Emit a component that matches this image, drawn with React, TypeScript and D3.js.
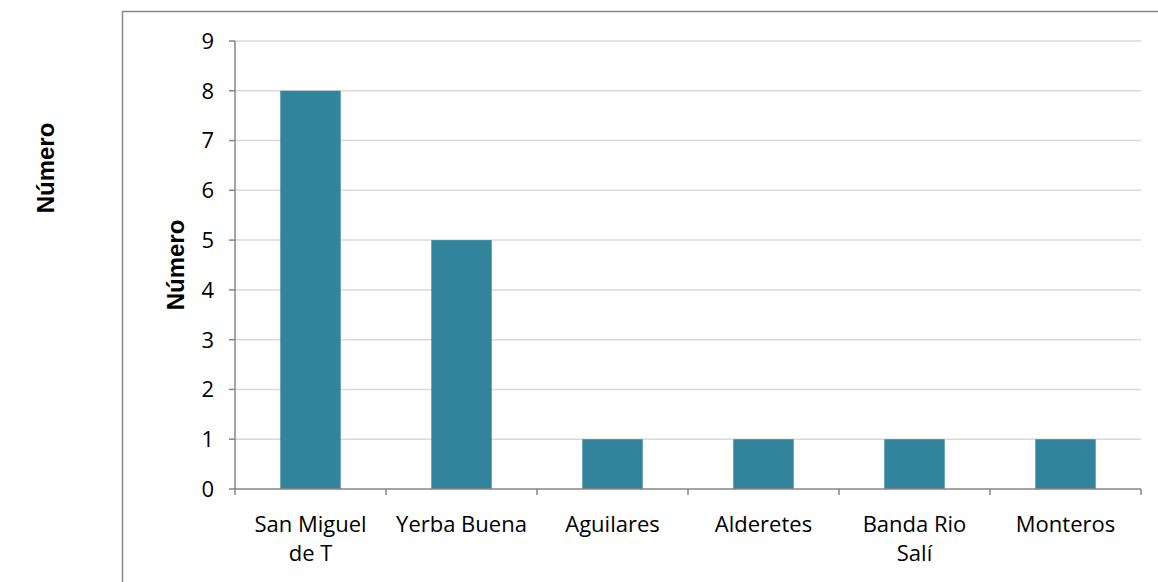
import { useEffect, useRef } from "react";
import * as d3 from "d3";

const CATEGORIES = ["San Miguel de T", "Yerba Buena", "Aguilares", "Alderetes", "Banda Rio Salí", "Monteros"];
const VALUES = [8, 5, 1, 1, 1, 1];
const Y_TICKS = [0, 1, 2, 3, 4, 5, 6, 7, 8, 9];
const AXIS_TITLE = "Número";

const W = 1158, H = 582;
const M = { left: 235, right: 17, top: 41, bottom: 93 };
const BAR = "#31849B";
const FONT = "'Open Sans', sans-serif";

function wrap(s: string, max: number): string[] {
  const lines: string[] = [];
  let cur = "";
  for (const w of s.split(" ")) {
    const next = cur ? cur + " " + w : w;
    if (next.length > max && cur) {
      lines.push(cur);
      cur = w;
    } else cur = next;
  }
  if (cur) lines.push(cur);
  return lines;
}

export default function App() {
  const ref = useRef<SVGSVGElement>(null);

  useEffect(() => {
    const el = ref.current;
    if (!el) return;
    const svg = d3.select(el);
    svg.selectAll("*").remove();

    const x = d3.scaleBand<string>().domain(CATEGORIES).range([M.left, W - M.right]).paddingInner(0.6).paddingOuter(0.3);
    const y = d3.scaleLinear().domain([0, 9]).range([H - M.bottom, M.top]);
    const step = x.step();

    // outer chart frame
    svg.append("rect").attr("x", 122.5).attr("y", 11.5).attr("width", W).attr("height", H)
      .attr("fill", "none").attr("stroke", "#878787").attr("stroke-width", 1.5);

    svg.append("g").selectAll("line").data(Y_TICKS.slice(1)).join("line")
      .attr("x1", M.left).attr("x2", W - M.right)
      .attr("y1", (d) => y(d)).attr("y2", (d) => y(d))
      .attr("stroke", "#d9d9d9").attr("stroke-width", 1.5);

    svg.append("g").selectAll("rect").data(CATEGORIES).join("rect")
      .attr("x", (d) => x(d) ?? 0).attr("width", x.bandwidth())
      .attr("y", (_d, i) => y(VALUES[i])).attr("height", (_d, i) => y(0) - y(VALUES[i]))
      .attr("fill", BAR);

    const axis = svg.append("g").attr("stroke", "#868686").attr("stroke-width", 1.5);
    axis.append("line").attr("x1", M.left).attr("x2", M.left).attr("y1", y(9)).attr("y2", y(0));
    axis.append("line").attr("x1", M.left).attr("x2", W - M.right).attr("y1", y(0)).attr("y2", y(0));
    axis.selectAll("line.yt").data(Y_TICKS).join("line")
      .attr("x1", M.left - 6).attr("x2", M.left).attr("y1", (d) => y(d)).attr("y2", (d) => y(d));
    const bounds = d3.range(CATEGORIES.length + 1).map((i) => M.left + i * step);
    axis.selectAll("line.xt").data(bounds).join("line")
      .attr("x1", (d) => d).attr("x2", (d) => d).attr("y1", y(0)).attr("y2", y(0) + 6);

    svg.append("g").selectAll("text").data(Y_TICKS).join("text")
      .attr("x", M.left - 21).attr("y", (d) => y(d)).attr("dy", "0.36em")
      .attr("text-anchor", "end").attr("font-family", FONT).attr("font-size", 22).attr("fill", "#000")
      .text((d) => d);

    const lbl = svg.append("g").selectAll("text").data(CATEGORIES).join("text")
      .attr("x", (d) => (x(d) ?? 0) + x.bandwidth() / 2).attr("y", y(0) + 43)
      .attr("text-anchor", "middle").attr("font-family", FONT).attr("font-size", 22).attr("fill", "#000");
    lbl.each(function (d) {
      const t = d3.select(this);
      const cx = t.attr("x");
      wrap(d, 11).forEach((line, i) => {
        t.append("tspan").attr("x", cx).attr("dy", i === 0 ? 0 : 29).text(line);
      });
    });

    const title = (cx: number, cy: number) =>
      svg.append("text").attr("transform", `translate(${cx},${cy}) rotate(-90)`)
        .attr("text-anchor", "middle").attr("font-family", "Liberation Sans, Arial, sans-serif")
        .attr("font-weight", "bold").attr("font-size", 24).attr("fill", "#000").text(AXIS_TITLE);
    title(54, 168);
    title(184, 265);
  }, []);

  return <svg ref={ref} width={W} height={H} style={{ position: "absolute", left: 0, top: 0 }} />;
}
